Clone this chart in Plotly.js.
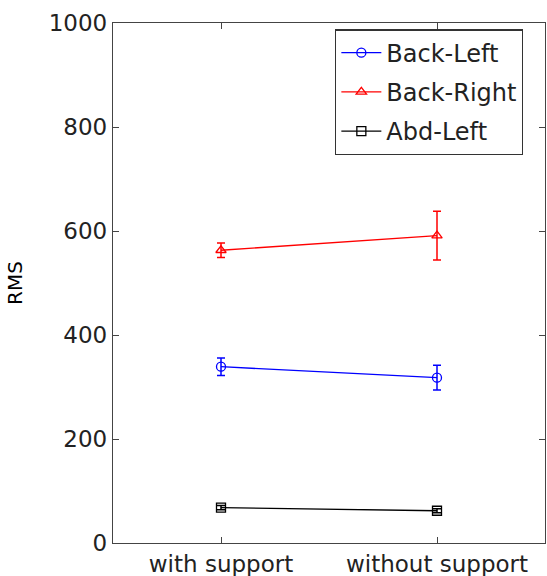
<!DOCTYPE html>
<html>
<head>
<meta charset="utf-8">
<script src="https://cdn.plot.ly/plotly-3.0.1.min.js"></script>
<style>html,body{margin:0;padding:0;background:#fff;}#chart{width:547px;height:576px;}</style>
</head>
<body>
<div id="chart"></div>
<script>
const categories = ["with support", "without support"];
const backLeft = [339, 318];
const backLeftErr = [17, 24];
const backRight = [563, 591];
const backRightErr = [14, 47];
const abdLeft = [68, 62];
const abdLeftErr = [4, 4];

const catIdx = [0, 1];
function trace(name, y, err, color, symbol) {
  return {
    x: catIdx, y: y, name: name, type: 'scatter', mode: 'lines+markers',
    legendgroup: name,
    line: {color: color, width: 1.3},
    marker: {symbol: symbol, size: 9, color: color, line: {color: color, width: 1.3}},
    error_y: {type: 'data', array: err, visible: true, color: color, thickness: 1.5, width: 4}
  };
}
const data = [
  trace('Back-Left', backLeft, backLeftErr, '#0000ff', 'circle-open'),
  trace('Back-Right', backRight, backRightErr, '#ff0000', 'triangle-up-open'),
  trace('Abd-Left', abdLeft, abdLeftErr, '#000000', 'square-open')
];
const layout = {
  width: 547, height: 576,
  margin: {l: 113, r: 2, t: 23, b: 33},
  paper_bgcolor: '#fff', plot_bgcolor: '#fff',
  font: {family: '"DejaVu Sans", sans-serif', size: 23, color: '#222'},
  showlegend: true,
  legend: {x: 0.514, y: 0.988, xanchor: 'left', yanchor: 'top', bgcolor: '#fff',
           bordercolor: '#333', borderwidth: 1.3, font: {size: 24, color: '#222'},
           tracegroupgap: 5, itemwidth: 40},
  xaxis: {range: [-0.5, 1.5], tickvals: catIdx, ticktext: categories,
          showline: true, mirror: 'ticks', linecolor: '#444', linewidth: 1.3,
          ticks: 'inside', ticklen: 6, tickcolor: '#444', showgrid: false, zeroline: false},
  yaxis: {range: [0, 1000], tickvals: [0, 200, 400, 600, 800, 1000],
          showline: true, mirror: 'ticks', linecolor: '#444', linewidth: 1.3,
          ticks: 'inside', ticklen: 6, tickcolor: '#444', showgrid: false, zeroline: false,
          title: {text: 'RMS', font: {size: 20, color: '#000'}, standoff: 20}}
};
Plotly.newPlot('chart', data, layout, {displayModeBar: false});
</script>
</body>
</html>
